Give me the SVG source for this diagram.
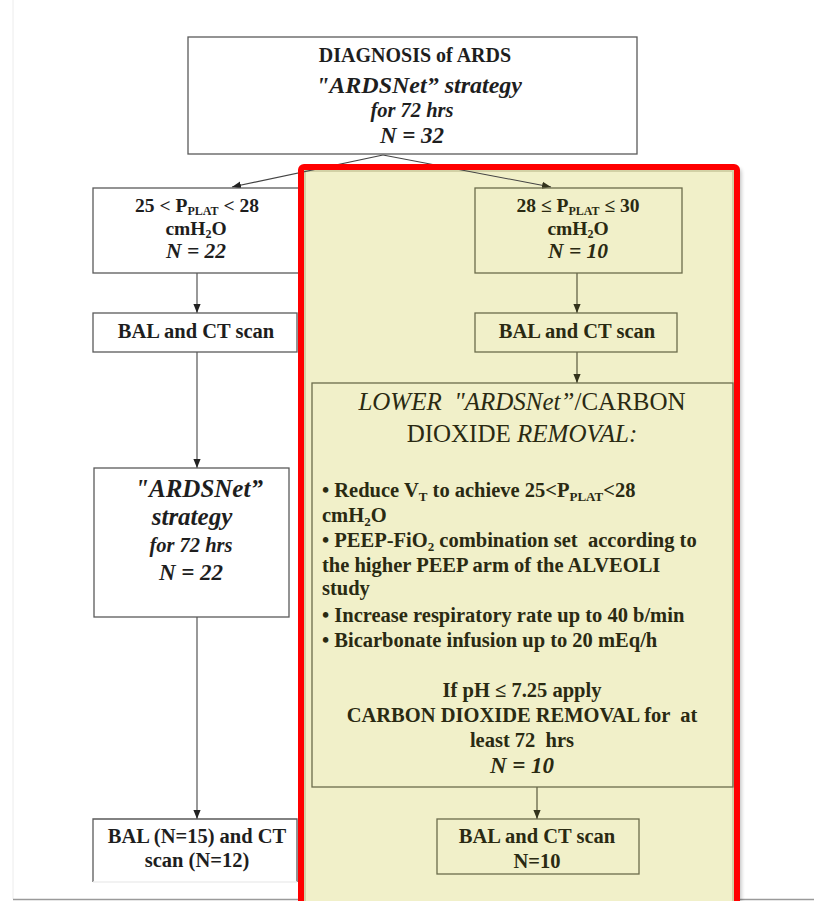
<svg xmlns="http://www.w3.org/2000/svg" width="814" height="901" viewBox="0 0 814 901">
<defs>
<style>
text{font-family:"Liberation Serif","Times New Roman",serif;font-weight:bold;}
.w{fill:#1e1e1e;}
.y{fill:#2a2a12;}
.c{text-anchor:middle;}
.i{font-style:italic;}
.n{font-weight:normal;}
.s{font-size:13px;}
.t{font-size:12px;}
.bw{fill:#fff;stroke:#5a5a5a;stroke-width:1.3;}
.by{fill:none;stroke:#6c6c4c;stroke-width:1.3;}
.lw{stroke:#444;stroke-width:1.1;fill:none;}
.ly{stroke:#4a4a30;stroke-width:1.1;fill:none;}
</style>
<marker id="aw" viewBox="0 0 10 8" refX="10" refY="4" markerWidth="9" markerHeight="8" orient="auto" markerUnits="userSpaceOnUse"><path d="M0,0 L10,4 L0,8 z" fill="#222"/></marker>
<marker id="ay" viewBox="0 0 10 8" refX="10" refY="4" markerWidth="9" markerHeight="8" orient="auto" markerUnits="userSpaceOnUse"><path d="M0,0 L10,4 L0,8 z" fill="#33331c"/></marker>
<filter id="sh" x="-5%" y="-5%" width="110%" height="110%"><feGaussianBlur stdDeviation="2"/></filter>
</defs>
<rect width="814" height="901" fill="#fff"/>
<line x1="13" y1="0" x2="13" y2="899" stroke="#ececec" stroke-width="1"/>
<line x1="13" y1="899.5" x2="814" y2="899.5" stroke="#9a9a9a" stroke-width="1.5"/>

<g id="panel-bg">
<rect x="303" y="169" width="438" height="735" rx="3" fill="#000" opacity="0.28" filter="url(#sh)"/>
<rect x="301" y="167" width="436" height="740" fill="#f1f0c9"/>
<rect x="305" y="171" width="428" height="740" fill="none" stroke="#d2d1a6" stroke-width="2"/>
</g>

<g id="connectors">
<line class="lw" x1="383" y1="155" x2="232" y2="187" marker-end="url(#aw)"/>
<line class="lw" x1="383" y1="155" x2="551" y2="187" marker-end="url(#ay)"/>
<line class="lw" x1="197" y1="273" x2="197" y2="313" marker-end="url(#aw)"/>
<line class="lw" x1="197" y1="352" x2="197" y2="468" marker-end="url(#aw)"/>
<line class="lw" x1="197" y1="617" x2="197" y2="819" marker-end="url(#aw)"/>
<line class="ly" x1="577" y1="273" x2="577" y2="313" marker-end="url(#ay)"/>
<line class="ly" x1="577" y1="352" x2="577" y2="383" marker-end="url(#ay)"/>
<line class="ly" x1="537" y1="787" x2="537" y2="819" marker-end="url(#ay)"/>
</g>

<g id="diagnosis">
<rect class="bw" x="188" y="37" width="449" height="117"/>
<text class="w c" x="415" y="62" font-size="20">DIAGNOSIS of ARDS</text>
<text class="w c i" x="419" y="93" font-size="24">"ARDSNet” strategy</text>
<text class="w c i" x="412" y="117" font-size="20.5">for 72 hrs</text>
<text class="w c i" x="412" y="143" font-size="23">N = 32</text>
</g>

<g id="pplat-low">
<rect class="bw" x="93" y="188" width="207" height="85"/>
<text class="w c" x="197" y="212" font-size="19.5">25 &lt; P<tspan class="t" dy="3">PLAT</tspan><tspan dy="-3"> &lt; 28</tspan></text>
<text class="w c" x="196" y="235" font-size="19.5">cmH<tspan class="t" dy="3">2</tspan><tspan dy="-3">O</tspan></text>
<text class="w c i" x="196" y="258" font-size="21.5">N = 22</text>
</g>

<g id="bal-left">
<rect class="bw" x="93" y="313" width="204" height="39"/>
<text class="w c" x="196" y="338" font-size="20.5">BAL and CT scan</text>
</g>

<g id="ardsnet-left">
<rect class="bw" x="94" y="468" width="195" height="149"/>
<text class="w c i" x="199" y="497" font-size="25">"ARDSNet”</text>
<text class="w c i" x="192" y="525" font-size="25">strategy</text>
<text class="w c i" x="191" y="552" font-size="20.5">for 72 hrs</text>
<text class="w c i" x="191" y="580" font-size="23">N = 22</text>
</g>

<g id="bal-left-final">
<path d="M93,882 V819 H297 V882" fill="#fff" stroke="#5a5a5a" stroke-width="1.3"/>
<line x1="93" y1="882" x2="297" y2="882" stroke="#eeeeee" stroke-width="1.3"/>
<text class="w c" x="197" y="843" font-size="20.5">BAL (N=15) and CT</text>
<text class="w c" x="197" y="867" font-size="20.5">scan (N=12)</text>
</g>

<g id="pplat-high">
<rect class="by" x="475" y="188" width="207" height="85"/>
<text class="y c" x="578" y="212" font-size="19.5">28 ≤ P<tspan class="t" dy="3">PLAT</tspan><tspan dy="-3"> ≤ 30</tspan></text>
<text class="y c" x="578" y="235" font-size="19.5">cmH<tspan class="t" dy="3">2</tspan><tspan dy="-3">O</tspan></text>
<text class="y c i" x="578" y="258" font-size="21.5">N = 10</text>
</g>

<g id="bal-right">
<rect class="by" x="475" y="313" width="202" height="39"/>
<text class="y c" x="577" y="338" font-size="20.5">BAL and CT scan</text>
</g>

<g id="lower-ardsnet">
<rect class="by" x="312" y="383" width="421" height="404"/>
<text class="y c n" x="522" y="410" font-size="25"><tspan class="i">LOWER &#160;"ARDSNet”</tspan>/CARBON</text>
<text class="y c n" x="522" y="442" font-size="25">DIOXIDE <tspan class="i">REMOVAL:</tspan></text>
<text class="y" x="322" y="497" font-size="20.5">• Reduce V<tspan class="s" dy="3.5">T</tspan><tspan dy="-3.5"> to achieve 25&lt;P</tspan><tspan class="s" dy="3.5">PLAT</tspan><tspan dy="-3.5">&lt;28</tspan></text>
<text class="y" x="322" y="522" font-size="20.5">cmH<tspan class="s" dy="3.5">2</tspan><tspan dy="-3.5">O</tspan></text>
<text class="y" x="322" y="547" font-size="20.5">• PEEP-FiO<tspan class="s" dy="3.5">2</tspan><tspan dy="-3.5"> combination set &#160;according to</tspan></text>
<text class="y" x="322" y="572" font-size="20.5">the higher PEEP arm of the ALVEOLI</text>
<text class="y" x="322" y="595" font-size="20.5">study</text>
<text class="y" x="322" y="622" font-size="20.5">• Increase respiratory rate up to 40 b/min</text>
<text class="y" x="322" y="647" font-size="20.5">• Bicarbonate infusion up to 20 mEq/h</text>
<text class="y c" x="522" y="697" font-size="20.5">If pH ≤ 7.25 apply</text>
<text class="y c" x="522" y="722" font-size="20.5">CARBON DIOXIDE REMOVAL for &#160;at</text>
<text class="y c" x="522" y="747" font-size="20.5">least 72 &#160;hrs</text>
<text class="y c i" x="522" y="773" font-size="23">N = 10</text>
</g>

<g id="bal-right-final">
<rect class="by" x="437" y="819" width="202" height="55"/>
<text class="y c" x="537" y="843" font-size="20.5">BAL and CT scan</text>
<text class="y c" x="537" y="868" font-size="20.5">N=10</text>
</g>

<g id="highlight-frame">
<rect x="301" y="167" width="436" height="740" rx="3" fill="none" stroke="#ff0000" stroke-width="6"/>
</g>
</svg>
